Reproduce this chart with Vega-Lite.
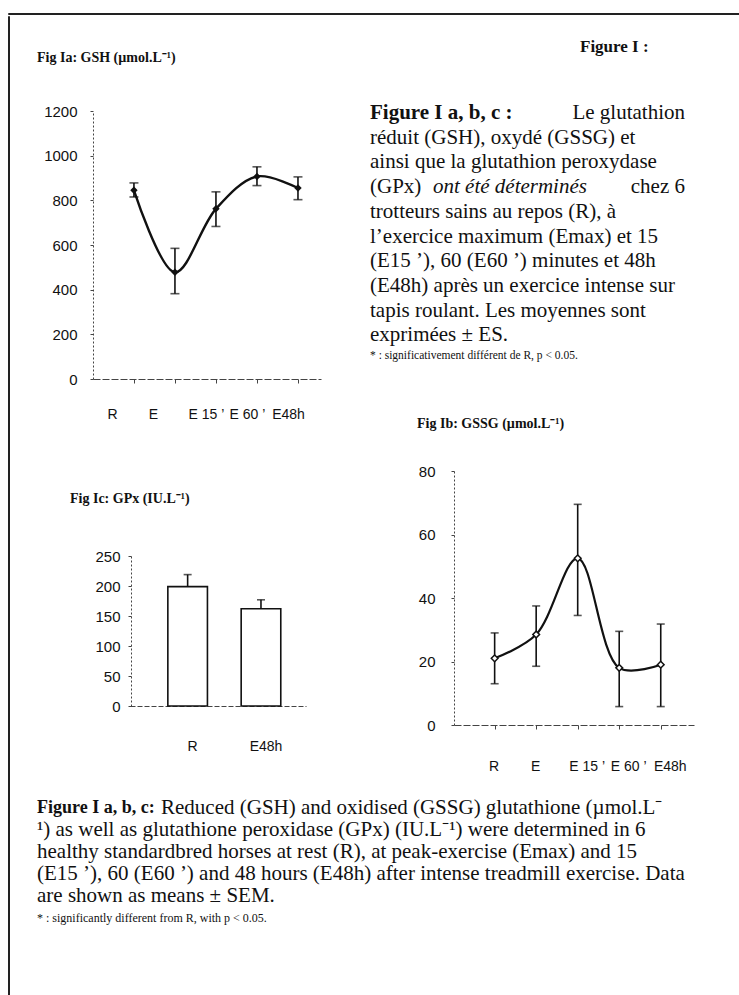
{
  "$schema": "https://vega.github.io/schema/vega-lite/v6.json",
  "background": "white",
  "padding": {"left": 7, "top": 12, "right": 0, "bottom": 0},
  "spacing": 0,
  "bounds": "full",
  "config": {
    "view": {"stroke": null},
    "font": "Liberation Sans",
    "axis": {"labelFont": "Liberation Sans", "labelColor": "#111", "domainColor": "#444", "tickColor": "#444", "grid": false, "labelAngle": 0}
  },
  "vconcat": [
    {
      "width": 732, "height": 1,
      "data": {"values": [{}]},
      "mark": {"type": "point", "size": 0, "opacity": 0},
      "encoding": {},
      "view": {"stroke": "#222", "strokeWidth": 1}
    },
    {
      "spacing": 0, "bounds": "full",
      "hconcat": [
        {
          "width": 1, "height": 985,
          "data": {"values": [{}]},
          "mark": {"type": "point", "size": 0, "opacity": 0},
          "encoding": {},
          "view": {"stroke": "#222", "strokeWidth": 1}
        },
        {
          "spacing": 0, "bounds": "full",
          "vconcat": [
            {
              "spacing": 0, "bounds": "full",
              "hconcat": [
                {
                  "spacing": 0, "bounds": "full",
                  "vconcat": [
                    {
                      "width": 323, "height": 410,
                      "title": {"text": "Fig Ia: GSH (µmol.L⁻¹)", "anchor": "start", "frame": "group", "orient": "top", "dx": 27, "offset": -49, "font": "Liberation Serif", "fontSize": 14, "fontWeight": "bold", "color": "#111"},
                      "data": {"values": [
                        {"t": "R", "mean": 845, "lo": 815, "hi": 878},
                        {"t": "E", "mean": 478, "lo": 382, "hi": 585},
                        {"t": "E 15 ’", "mean": 762, "lo": 683, "hi": 838},
                        {"t": "E 60 ’", "mean": 907, "lo": 866, "hi": 950},
                        {"t": "E48h", "mean": 855, "lo": 803, "hi": 905}
                      ]},
                      "encoding": {
                        "x": {"field": "t", "type": "ordinal", "sort": null, "title": null,
                          "scale": {"type": "point", "range": [83, 311], "padding": 0.78, "align": 0.64},
                          "axis": {"orient": "bottom", "offset": -47, "domainDash": [7, 2], "tickSize": 4, "labelFontSize": 14, "labelPadding": 24,
                            "labelOffset": {"condition": {"test": "datum.value === 'R' || datum.value === 'E'", "value": -22}, "value": -10}}}
                      },
                      "layer": [
                        {"mark": {"type": "line", "interpolate": "catmull-rom", "color": "#111", "strokeWidth": 2.4},
                          "encoding": {"y": {"field": "mean", "type": "quantitative", "title": null,
                            "scale": {"domain": [0, 1200], "range": [363, 95], "nice": false, "zero": false},
                            "axis": {"orient": "left", "offset": -83, "values": [0, 200, 400, 600, 800, 1000, 1200], "format": "d", "domainDash": [2, 2], "tickSize": 3, "labelPadding": 13, "labelFontSize": 15}}}},
                        {"mark": {"type": "rule", "color": "#111", "strokeWidth": 1.6},
                          "encoding": {"y": {"field": "lo", "type": "quantitative", "title": null}, "y2": {"field": "hi"}}},
                        {"mark": {"type": "tick", "size": 9, "thickness": 1.6, "color": "#111"},
                          "encoding": {"y": {"field": "lo", "type": "quantitative", "title": null}}},
                        {"mark": {"type": "tick", "size": 9, "thickness": 1.6, "color": "#111"},
                          "encoding": {"y": {"field": "hi", "type": "quantitative", "title": null}}},
                        {"mark": {"type": "point", "shape": "diamond", "filled": true, "size": 55, "color": "#111", "opacity": 1},
                          "encoding": {"y": {"field": "mean", "type": "quantitative", "title": null}}}
                      ]
                    },
                    {
                      "width": 323, "height": 357,
                      "title": {"text": "Fig Ic: GPx (IU.L⁻¹)", "anchor": "start", "frame": "group", "orient": "top", "dx": 60, "offset": -80, "font": "Liberation Serif", "fontSize": 14, "fontWeight": "bold", "color": "#111"},
                      "data": {"values": [
                        {"t": "R", "mean": 199, "hi": 219},
                        {"t": "E48h", "mean": 162, "hi": 177}
                      ]},
                      "encoding": {
                        "x": {"field": "t", "type": "ordinal", "sort": null, "title": null,
                          "scale": {"type": "band", "range": [120, 296], "paddingInner": 0.46, "paddingOuter": 0.43, "align": 0.6},
                          "axis": {"orient": "bottom", "offset": -77, "ticks": false, "domainDash": [5, 2], "labelFontSize": 14, "labelPadding": 33, "labelOffset": 5}}
                      },
                      "layer": [
                        {"mark": {"type": "bar", "fill": "white", "stroke": "#111", "strokeWidth": 1.6},
                          "encoding": {"y": {"field": "mean", "type": "quantitative", "title": null,
                            "scale": {"domain": [0, 250], "range": [280, 130], "nice": false},
                            "axis": {"orient": "left", "offset": -121, "values": [0, 50, 100, 150, 200, 250], "format": "d", "domainDash": [2, 2], "tickSize": 3, "labelPadding": 8, "labelFontSize": 15}}}},
                        {"mark": {"type": "rule", "color": "#111", "strokeWidth": 1.6},
                          "encoding": {"y": {"field": "mean", "type": "quantitative", "title": null}, "y2": {"field": "hi"}}},
                        {"mark": {"type": "tick", "size": 8, "thickness": 1.6, "color": "#111"},
                          "encoding": {"y": {"field": "hi", "type": "quantitative", "title": null}}}
                      ]
                    }
                  ]
                },
                {
                  "spacing": 0, "bounds": "full",
                  "vconcat": [
                    {
                      "width": 409, "height": 397,
                      "title": {"text": "Figure I :", "anchor": "start", "frame": "group", "orient": "top", "dx": 247, "offset": -40, "font": "Liberation Serif", "fontSize": 17, "fontWeight": "bold", "color": "#111"},
                      "data": {"values": [
                        {"line": 1, "seg": "bold", "text": "Figure I a, b, c :"},
                        {"line": 1, "seg": "right", "text": "Le glutathion"},
                        {"line": 2, "seg": "left", "text": "réduit (GSH), oxydé (GSSG) et"},
                        {"line": 3, "seg": "left", "text": "ainsi que la glutathion peroxydase"},
                        {"line": 4, "seg": "left", "text": "(GPx)"},
                        {"line": 4, "seg": "italic", "text": "ont été déterminés"},
                        {"line": 4, "seg": "right", "text": "chez 6"},
                        {"line": 5, "seg": "left", "text": "trotteurs sains au repos (R), à"},
                        {"line": 6, "seg": "left", "text": "l’exercice maximum (Emax) et 15"},
                        {"line": 7, "seg": "left", "text": "(E15 ’), 60 (E60 ’) minutes et 48h"},
                        {"line": 8, "seg": "left", "text": "(E48h) après un exercice intense sur"},
                        {"line": 9, "seg": "left", "text": "tapis roulant. Les moyennes sont"},
                        {"line": 10, "seg": "left", "text": "exprimées ± ES."},
                        {"line": 11, "seg": "note", "text": "* : significativement différent de R, p < 0.05."}
                      ]},
                      "encoding": {
                        "y": {"field": "line", "type": "quantitative", "scale": {"domain": [1, 10], "range": [97, 319.3]}, "axis": null},
                        "text": {"field": "text"}
                      },
                      "layer": [
                        {"transform": [{"filter": "datum.seg === 'left'"}],
                          "mark": {"type": "text", "align": "left", "baseline": "middle", "font": "Liberation Serif", "fontSize": 21, "color": "#111", "x": 37}},
                        {"transform": [{"filter": "datum.seg === 'bold'"}],
                          "mark": {"type": "text", "align": "left", "baseline": "middle", "font": "Liberation Serif", "fontSize": 21, "fontWeight": "bold", "color": "#111", "x": 37}},
                        {"transform": [{"filter": "datum.seg === 'italic'"}],
                          "mark": {"type": "text", "align": "left", "baseline": "middle", "font": "Liberation Serif", "fontSize": 21, "fontStyle": "italic", "color": "#111", "x": 100}},
                        {"transform": [{"filter": "datum.seg === 'right'"}],
                          "mark": {"type": "text", "align": "right", "baseline": "middle", "font": "Liberation Serif", "fontSize": 21, "color": "#111", "x": 352}},
                        {"transform": [{"filter": "datum.seg === 'note'"}],
                          "mark": {"type": "text", "align": "left", "baseline": "middle", "font": "Liberation Serif", "fontSize": 11.5, "color": "#111", "x": 37, "dy": -4}}
                      ]
                    },
                    {
                      "width": 409, "height": 370,
                      "title": {"text": "Fig Ib: GSSG (µmol.L⁻¹)", "anchor": "start", "frame": "group", "orient": "top", "dx": 84, "offset": -18, "font": "Liberation Serif", "fontSize": 14, "fontWeight": "bold", "color": "#111"},
                      "data": {"values": [
                        {"t": "R", "mean": 21, "lo": 13, "hi": 29},
                        {"t": "E", "mean": 28.5, "lo": 18.5, "hi": 37.5},
                        {"t": "E 15 ’", "mean": 52.5, "lo": 34.5, "hi": 69.5},
                        {"t": "E 60 ’", "mean": 18, "lo": 5.8, "hi": 29.5},
                        {"t": "E48h", "mean": 19, "lo": 5.8, "hi": 31.8}
                      ]},
                      "encoding": {
                        "x": {"field": "t", "type": "ordinal", "sort": null, "title": null,
                          "scale": {"type": "point", "range": [121, 361], "padding": 0.89, "align": 0.55},
                          "axis": {"orient": "bottom", "offset": -58, "domainDash": [7, 2], "tickSize": 4, "labelFontSize": 14, "labelPadding": 30,
                            "labelOffset": {"condition": {"test": "datum.value === 'R' || datum.value === 'E'", "value": -1}, "value": 9}}}
                      },
                      "layer": [
                        {"mark": {"type": "line", "interpolate": "catmull-rom", "color": "#111", "strokeWidth": 2.2},
                          "encoding": {"y": {"field": "mean", "type": "quantitative", "title": null,
                            "scale": {"domain": [0, 80], "range": [312, 58], "nice": false, "zero": false},
                            "axis": {"orient": "left", "offset": -121, "values": [0, 20, 40, 60, 80], "format": "d", "domainDash": [2, 2], "tickSize": 3, "labelPadding": 16, "labelFontSize": 15}}}},
                        {"mark": {"type": "rule", "color": "#111", "strokeWidth": 1.6},
                          "encoding": {"y": {"field": "lo", "type": "quantitative", "title": null}, "y2": {"field": "hi"}}},
                        {"mark": {"type": "tick", "size": 8, "thickness": 1.6, "color": "#111"},
                          "encoding": {"y": {"field": "lo", "type": "quantitative", "title": null}}},
                        {"mark": {"type": "tick", "size": 8, "thickness": 1.6, "color": "#111"},
                          "encoding": {"y": {"field": "hi", "type": "quantitative", "title": null}}},
                        {"mark": {"type": "point", "shape": "diamond", "filled": true, "fill": "white", "stroke": "#111", "strokeWidth": 1.5, "size": 45, "opacity": 1},
                          "encoding": {"y": {"field": "mean", "type": "quantitative", "title": null}}}
                      ]
                    }
                  ]
                }
              ]
            },
            {
              "width": 732, "height": 215,
              "data": {"values": [
                {"line": 1, "seg": "bold", "text": "Figure I a, b, c:"},
                {"line": 1, "seg": "first", "text": "Reduced (GSH) and oxidised (GSSG) glutathione (µmol.L⁻"},
                {"line": 2, "seg": "left", "text": "¹) as well as glutathione peroxidase (GPx) (IU.L⁻¹) were determined in 6"},
                {"line": 3, "seg": "left", "text": "healthy standardbred horses at rest (R), at peak-exercise (Emax) and 15"},
                {"line": 4, "seg": "left", "text": "(E15 ’), 60 (E60 ’) and 48 hours (E48h) after intense treadmill exercise. Data"},
                {"line": 5, "seg": "left", "text": "are shown as means ± SEM."},
                {"line": 6, "seg": "note", "text": "* : significantly different from R, with p < 0.05."}
              ]},
              "encoding": {
                "y": {"field": "line", "type": "quantitative", "scale": {"domain": [1, 5], "range": [25, 113]}, "axis": null},
                "text": {"field": "text"}
              },
              "layer": [
                {"transform": [{"filter": "datum.seg === 'bold'"}],
                  "mark": {"type": "text", "align": "left", "baseline": "middle", "font": "Liberation Serif", "fontSize": 18, "fontWeight": "bold", "color": "#111", "x": 27}},
                {"transform": [{"filter": "datum.seg === 'first'"}],
                  "mark": {"type": "text", "align": "left", "baseline": "middle", "font": "Liberation Serif", "fontSize": 21, "color": "#111", "x": 151}},
                {"transform": [{"filter": "datum.seg === 'left'"}],
                  "mark": {"type": "text", "align": "left", "baseline": "middle", "font": "Liberation Serif", "fontSize": 21, "color": "#111", "x": 27}},
                {"transform": [{"filter": "datum.seg === 'note'"}],
                  "mark": {"type": "text", "align": "left", "baseline": "middle", "font": "Liberation Serif", "fontSize": 12, "color": "#111", "x": 27}}
              ]
            }
          ]
        }
      ]
    }
  ]
}
